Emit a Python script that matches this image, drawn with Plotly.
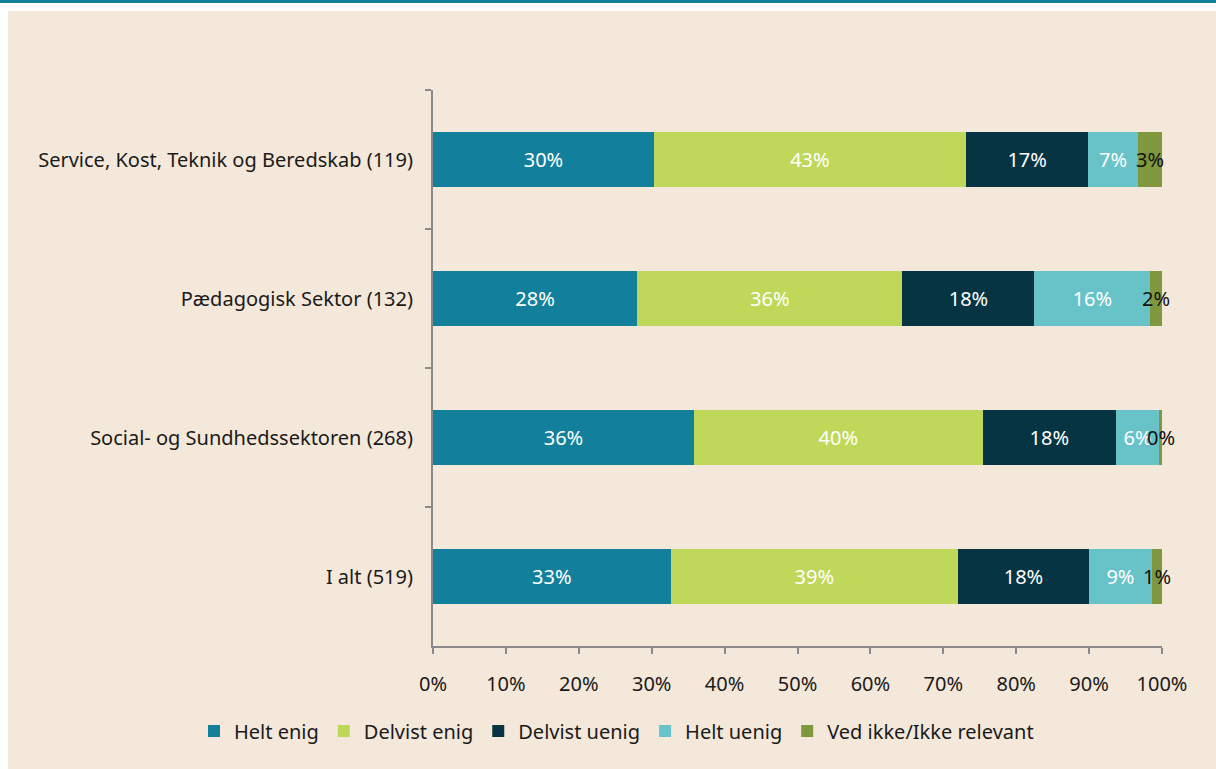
import plotly.graph_objects as go

categories = [
    "Service, Kost, Teknik og Beredskab (119)",
    "Pædagogisk Sektor (132)",
    "Social- og Sundhedssektoren (268)",
    "I alt (519)",
]
series_names = ["Helt enig", "Delvist enig", "Delvist uenig", "Helt uenig", "Ved ikke/Ikke relevant"]
helt_enig = [30.3, 28.0, 35.8, 32.6]
delvist_enig = [42.8, 36.4, 39.6, 39.4]
delvist_uenig = [16.8, 18.1, 18.3, 18.0]
helt_uenig = [6.8, 15.9, 5.9, 8.6]
ved_ikke = [3.3, 1.6, 0.4, 1.4]
x_tick_vals = [0, 10, 20, 30, 40, 50, 60, 70, 80, 90, 100]
x_tick_text = [f"{v}%" for v in x_tick_vals]

series_values = [helt_enig, delvist_enig, delvist_uenig, helt_uenig, ved_ikke]
colors = ["#13809B", "#BFD85A", "#073442", "#67C3C8", "#7F983E"]

FONT = "Noto Sans"
FS = 20
fig = go.Figure()
for i, (name, vals, col) in enumerate(zip(series_names, series_values, colors)):
    last = i == len(series_names) - 1
    fig.add_trace(go.Bar(
        y=categories, x=vals, name=name, orientation="h",
        marker=dict(color=col, line=dict(width=0)),
        text=None if last else [f"{round(v):d}%" for v in vals],
        textposition="none" if last else "inside",
        insidetextanchor="middle", textangle=0,
        constraintext="none", cliponaxis=False,
        textfont=dict(color="white", size=FS, family=FONT),
        hoverinfo="skip",
    ))

# labels of the thin last segment (they overflow the bar in the original)
annotations = []
for cat, *vals in zip(categories, *series_values):
    mid = sum(vals[:-1]) + vals[-1] / 2
    annotations.append(dict(x=mid, y=cat, xref="x", yref="y", text=f"{round(vals[-1]):d}%",
                            showarrow=False, xanchor="center", yanchor="middle",
                            font=dict(size=FS, family=FONT, color="#111111")))

L, R, T, B = 433, 1162, 90, 646
W, H = R - L, B - T
def px(x):
    return (x - L) / W
def py(y):
    return (B - y) / H

fig.update_layout(
    width=1216, height=769,
    barmode="stack", bargap=0.6,
    paper_bgcolor="#F4E8DA", plot_bgcolor="rgba(0,0,0,0)",
    margin=dict(l=L, r=1216 - R, t=T, b=769 - B),
    font=dict(family=FONT, size=FS, color="#1a1a1a"),
    showlegend=True,
    annotations=annotations,
    legend=dict(orientation="h", xref="paper", yref="paper",
                x=px(194), y=py(731), xanchor="left", yanchor="middle",
                font=dict(size=FS, family=FONT, color="#1a1a1a"), traceorder="normal",
                itemwidth=30, bgcolor="rgba(0,0,0,0)"),
    xaxis=dict(range=[0, 100], tickvals=x_tick_vals, ticktext=x_tick_text,
               showgrid=False, zeroline=False, showline=True, linecolor="#8A8A8A",
               linewidth=2, ticks="outside", ticklen=6, tickcolor="#8A8A8A", tickwidth=2,
               ticklabelstandoff=13,
               tickfont=dict(size=FS, family=FONT, color="#1a1a1a")),
    yaxis=dict(categoryorder="array", categoryarray=categories, autorange="reversed",
               showgrid=False, zeroline=False, showline=True, linecolor="#8A8A8A",
               linewidth=2, ticks="outside", ticklen=6, tickcolor="#8A8A8A", tickwidth=2,
               tickson="boundaries", ticklabelstandoff=14,
               tickfont=dict(size=FS, family=FONT, color="#1a1a1a")),
    shapes=[
        dict(type="rect", xref="paper", yref="paper", x0=px(-5), x1=px(1225), y0=py(-5), y1=py(11),
             fillcolor="white", line=dict(width=0), layer="below"),
        dict(type="rect", xref="paper", yref="paper", x0=px(-5), x1=px(8), y0=py(780), y1=py(11),
             fillcolor="white", line=dict(width=0), layer="below"),
        dict(type="rect", xref="paper", yref="paper", x0=px(-5), x1=px(1225), y0=py(3), y1=py(-5),
             fillcolor="#13809B", line=dict(width=0), layer="below"),
    ],
)

fig.write_html("out.html", config={"displayModeBar": False},
               post_script="document.body.style.margin='0';document.body.style.overflow='hidden';")
